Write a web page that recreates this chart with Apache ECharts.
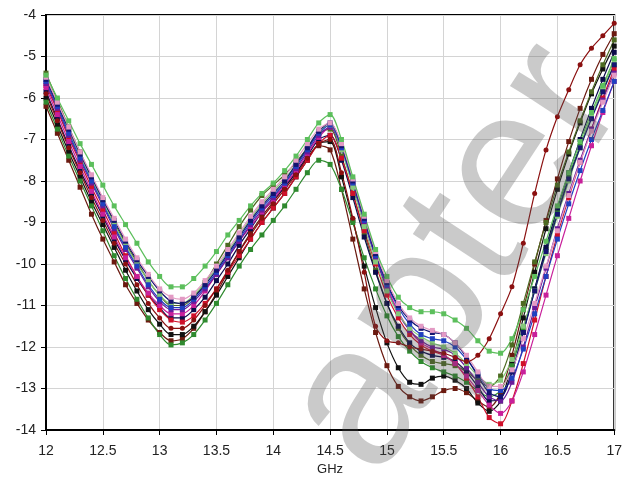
<!DOCTYPE html>
<html>
<head>
<meta charset="utf-8">
<script src="https://cdn.jsdelivr.net/npm/echarts@6/dist/echarts.min.js"></script>
<style>
  html, body { margin: 0; padding: 0; background: #fff; }
  #chart { width: 625px; height: 482px; }
</style>
</head>
<body>
<div id="chart"></div>
<script>
// frequency points, GHz (step 0.1)
const freqStart = 12.0;
const freqStep = 0.1;

const xTicks = ['12', '12.5', '13', '13.5', '14', '14.5', '15', '15.5', '16', '16.5', '17'];

// curves (dB)
const brownDark = [-6.2,-6.85,-7.5,-8.15,-8.8,-9.4,-9.95,-10.5,-10.95,-11.35,-11.65,-11.85,-11.8,-11.55,-11.15,-10.7,-10.2,-9.7,-9.25,-8.85,-8.5,-8.15,-7.8,-7.45,-7.15,-7.25,-8.2,-9.4,-10.6,-11.65,-12.45,-12.95,-13.2,-13.3,-13.2,-13.05,-13.0,-13.1,-13.3,-13.45,-13.1,-12.2,-11.1,-10.0,-8.95,-7.95,-7.05,-6.25,-5.55,-4.95,-4.45];
const blackCurve = [-6.0,-6.65,-7.3,-7.9,-8.5,-9.05,-9.6,-10.15,-10.65,-11.1,-11.45,-11.7,-11.7,-11.5,-11.15,-10.75,-10.3,-9.85,-9.4,-9.0,-8.65,-8.3,-7.9,-7.5,-7.1,-7.05,-7.9,-8.95,-10.05,-11.05,-11.9,-12.5,-12.85,-12.9,-12.75,-12.7,-12.8,-13.0,-13.35,-13.55,-13.3,-12.4,-11.3,-10.2,-9.15,-8.2,-7.35,-6.6,-5.9,-5.3,-4.75];
const greenDark = [-6.1,-6.75,-7.4,-8.0,-8.6,-9.2,-9.8,-10.35,-10.85,-11.3,-11.7,-11.95,-11.9,-11.7,-11.35,-10.95,-10.5,-10.05,-9.65,-9.3,-8.95,-8.6,-8.2,-7.8,-7.5,-7.6,-8.2,-9.0,-9.85,-10.6,-11.25,-11.75,-12.1,-12.35,-12.5,-12.6,-12.7,-12.85,-13.05,-13.2,-13.05,-12.45,-11.55,-10.6,-9.65,-8.75,-7.9,-7.15,-6.45,-5.8,-5.2];
const olive = [-5.4,-6.05,-6.7,-7.3,-7.9,-8.45,-9.0,-9.5,-9.95,-10.4,-10.75,-11.0,-11.0,-10.8,-10.45,-10.0,-9.55,-9.1,-8.7,-8.35,-8.1,-7.85,-7.55,-7.2,-6.85,-6.75,-7.4,-8.3,-9.25,-10.15,-10.95,-11.55,-11.95,-12.2,-12.35,-12.4,-12.45,-12.6,-12.8,-12.95,-12.7,-11.95,-10.95,-9.95,-9.0,-8.1,-7.3,-6.55,-5.85,-5.2,-4.6];
const darkBlue = [-5.85,-6.5,-7.15,-7.75,-8.3,-8.85,-9.4,-9.9,-10.35,-10.75,-11.05,-11.3,-11.3,-11.1,-10.8,-10.4,-10.0,-9.55,-9.15,-8.75,-8.45,-8.15,-7.8,-7.4,-7.0,-6.9,-7.5,-8.4,-9.35,-10.2,-10.95,-11.5,-11.9,-12.1,-12.2,-12.25,-12.35,-12.6,-12.95,-13.3,-13.25,-12.6,-11.65,-10.6,-9.6,-8.65,-7.8,-7.0,-6.25,-5.55,-4.9];
const crimson = [-5.7,-6.3,-6.95,-7.55,-8.15,-8.7,-9.25,-9.8,-10.3,-10.75,-11.1,-11.35,-11.4,-11.25,-10.95,-10.6,-10.2,-9.8,-9.4,-9.0,-8.65,-8.3,-7.9,-7.5,-7.1,-6.9,-7.45,-8.3,-9.2,-10.0,-10.75,-11.3,-11.7,-11.95,-12.1,-12.2,-12.4,-12.75,-13.2,-13.7,-13.85,-13.3,-12.4,-11.35,-10.3,-9.3,-8.4,-7.55,-6.75,-6.0,-5.3];
const magenta = [-5.75,-6.4,-7.05,-7.65,-8.25,-8.8,-9.35,-9.85,-10.3,-10.7,-11.0,-11.2,-11.2,-11.0,-10.65,-10.25,-9.85,-9.45,-9.1,-8.75,-8.45,-8.1,-7.75,-7.35,-6.95,-6.7,-7.2,-8.05,-8.95,-9.8,-10.55,-11.15,-11.6,-11.9,-12.05,-12.2,-12.4,-12.7,-13.05,-13.4,-13.6,-13.3,-12.6,-11.7,-10.75,-9.8,-8.9,-8.0,-7.15,-6.35,-5.6];
const purple = [-5.65,-6.25,-6.9,-7.5,-8.05,-8.6,-9.15,-9.65,-10.1,-10.55,-10.9,-11.1,-11.1,-10.9,-10.6,-10.25,-9.85,-9.45,-9.05,-8.7,-8.4,-8.05,-7.7,-7.3,-6.9,-6.7,-7.25,-8.1,-9.0,-9.85,-10.6,-11.2,-11.6,-11.85,-12.0,-12.05,-12.2,-12.5,-12.85,-13.2,-13.3,-12.85,-12.0,-11.05,-10.1,-9.15,-8.3,-7.5,-6.75,-6.05,-5.4];
const lightGreen = [-5.5,-6.15,-6.8,-7.4,-7.95,-8.5,-9.05,-9.55,-10.0,-10.4,-10.75,-10.95,-10.95,-10.75,-10.45,-10.1,-9.7,-9.3,-8.9,-8.55,-8.25,-7.95,-7.6,-7.2,-6.8,-6.65,-7.25,-8.15,-9.1,-9.95,-10.65,-11.2,-11.55,-11.75,-11.9,-12.0,-12.15,-12.4,-12.7,-12.9,-12.8,-12.3,-11.5,-10.65,-9.75,-8.85,-8.0,-7.2,-6.45,-5.75,-5.1];
const blue = [-5.6,-6.2,-6.85,-7.45,-8.0,-8.55,-9.1,-9.6,-10.05,-10.5,-10.85,-11.05,-11.05,-10.85,-10.55,-10.2,-9.8,-9.4,-9.0,-8.65,-8.35,-8.05,-7.65,-7.25,-6.85,-6.65,-7.2,-8.05,-8.95,-9.8,-10.5,-11.05,-11.45,-11.7,-11.8,-11.85,-12.0,-12.3,-12.65,-13.0,-13.05,-12.75,-12.05,-11.2,-10.3,-9.4,-8.55,-7.75,-7.0,-6.3,-5.6];
const navy = [-5.55,-6.15,-6.75,-7.35,-7.9,-8.45,-8.95,-9.45,-9.9,-10.3,-10.65,-10.9,-10.95,-10.8,-10.5,-10.15,-9.75,-9.35,-8.95,-8.6,-8.3,-8.0,-7.6,-7.2,-6.8,-6.6,-7.15,-8.0,-8.9,-9.75,-10.45,-11.0,-11.35,-11.55,-11.65,-11.7,-11.9,-12.25,-12.7,-13.1,-13.2,-12.6,-11.65,-10.65,-9.7,-8.8,-7.95,-7.2,-6.5,-5.85,-5.2];
const pink = [-5.5,-6.1,-6.7,-7.3,-7.85,-8.4,-8.9,-9.4,-9.85,-10.25,-10.6,-10.8,-10.85,-10.7,-10.4,-10.05,-9.65,-9.25,-8.85,-8.5,-8.2,-7.9,-7.5,-7.1,-6.75,-6.6,-7.1,-7.95,-8.85,-9.7,-10.4,-10.95,-11.3,-11.5,-11.6,-11.7,-11.9,-12.2,-12.6,-12.95,-12.95,-12.55,-11.8,-10.95,-10.05,-9.2,-8.35,-7.55,-6.8,-6.1,-5.45];
const maroon = [-5.9,-6.55,-7.2,-7.8,-8.4,-8.95,-9.5,-10.0,-10.5,-10.95,-11.3,-11.55,-11.55,-11.35,-11.0,-10.6,-10.15,-9.7,-9.3,-8.9,-8.55,-8.2,-7.85,-7.45,-7.1,-7.0,-7.8,-8.9,-10.2,-11.5,-11.85,-11.9,-12.0,-12.05,-12.1,-12.15,-12.25,-12.35,-12.2,-11.8,-11.2,-10.55,-9.5,-8.3,-7.25,-6.45,-5.8,-5.2,-4.8,-4.5,-4.2];
const greenLight = [-5.45,-6.0,-6.55,-7.1,-7.6,-8.1,-8.6,-9.05,-9.5,-9.95,-10.3,-10.55,-10.55,-10.35,-10.05,-9.7,-9.3,-8.95,-8.6,-8.3,-8.05,-7.75,-7.4,-7.0,-6.6,-6.4,-7.0,-7.9,-8.8,-9.65,-10.3,-10.8,-11.05,-11.15,-11.15,-11.2,-11.35,-11.55,-11.85,-12.1,-12.15,-11.8,-11.1,-10.3,-9.45,-8.6,-7.8,-7.05,-6.35,-5.7,-5.05];

const curves = [
    { name: 'c1', data: brownDark, color: '#6b1a10', symbol: 'rect' },
    { name: 'c2', data: blackCurve, color: '#111111', symbol: 'rect' },
    { name: 'c3', data: greenDark, color: '#2f8a2f', symbol: 'rect' },
    { name: 'c4', data: olive, color: '#4d6a22', symbol: 'rect' },
    { name: 'c5', data: darkBlue, color: '#0c0c4a', symbol: 'rect' },
    { name: 'c6', data: crimson, color: '#d0102a', symbol: 'rect' },
    { name: 'c7', data: magenta, color: '#c8209a', symbol: 'rect' },
    { name: 'c8', data: purple, color: '#6a1b9a', symbol: 'rect' },
    { name: 'c9', data: lightGreen, color: '#86c97a', symbol: 'rect' },
    { name: 'c10', data: blue, color: '#2040c0', symbol: 'rect' },
    { name: 'c11', data: navy, color: '#141470', symbol: 'rect' },
    { name: 'c12', data: pink, color: '#e39ac4', symbol: 'rect' },
    { name: 'c13', data: maroon, color: '#8b1010', symbol: 'circle' },
    { name: 'c14', data: greenLight, color: '#5cbf5c', symbol: 'rect' }
];

function toPoints(values) {
    return values.map((v, i) => [+(freqStart + i * freqStep).toFixed(2), v]);
}

const chart = echarts.init(document.getElementById('chart'), null, { renderer: 'canvas' });

const labelFont = { fontFamily: 'Liberation Sans, Arial, sans-serif', fontSize: 14, color: '#222' };

const option = {
    animation: false,
    grid: {
        left: 46, right: 9, top: 15, bottom: 52,
        show: true, borderColor: '#000', borderWidth: 2, backgroundColor: 'transparent'
    },
    xAxis: {
        type: 'value', min: 12, max: 17, interval: 0.5,
        name: 'GHz', nameLocation: 'middle', nameGap: 30,
        nameTextStyle: { fontFamily: 'Liberation Sans, Arial, sans-serif', fontSize: 13, color: '#222' },
        axisLine: { show: true, lineStyle: { color: '#000', width: 2 } },
        axisTick: { show: true, inside: false, length: 5, lineStyle: { color: '#000' } },
        axisLabel: Object.assign({ margin: 14, formatter: v => xTicks[Math.round((v - 12) * 2)] }, labelFont),
        splitLine: { show: true, lineStyle: { color: '#d4d4d4', width: 1 } }
    },
    yAxis: {
        type: 'value', min: -14, max: -4, interval: 1,
        axisLine: { show: true, lineStyle: { color: '#000', width: 2 } },
        axisTick: { show: true, inside: false, length: 5, lineStyle: { color: '#000' } },
        axisLabel: Object.assign({ margin: 10 }, labelFont),
        splitLine: { show: true, lineStyle: { color: '#d4d4d4', width: 1 } }
    },
    // faint diagonal watermark over the plot
    graphic: [{
        type: 'text',
        x: 415, y: 505,
        rotation: 0.99,
        z: 100,
        style: {
            text: 'apter',
            fontSize: 200,
            fontFamily: 'Liberation Sans, Arial, sans-serif',
            verticalAlign: 'bottom',
            fill: 'rgba(80,80,80,0.3)'
        }
    }],
    series: curves.map(c => ({
        name: c.name,
        type: 'line',
        data: toPoints(c.data),
        symbol: c.symbol,
        symbolSize: 5,
        showSymbol: true,
        smooth: 0.3,
        lineStyle: { color: c.color, width: 1.2 },
        itemStyle: { color: c.color },
        clip: true
    }))
};

chart.setOption(option);
</script>
</body>
</html>
